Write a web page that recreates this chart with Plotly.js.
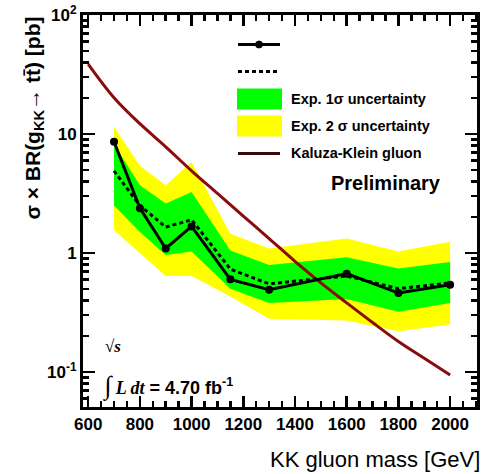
<!DOCTYPE html>
<html><head><meta charset="utf-8">
<script src="https://cdn.plot.ly/plotly-3.0.1.min.js"></script>
<style>body{margin:0;background:#fff}</style></head>
<body><div id="plot" style="width:485px;height:474px"></div>
<script>
// Limit points (KK gluon mass in GeV, cross-section in pb)
const mass = [700, 800, 900, 1000, 1150, 1300, 1600, 1800, 2000];
const observed = [8.6, 2.38, 1.09, 1.67, 0.60, 0.49, 0.67, 0.46, 0.54];
const expected = [4.9, 2.5, 1.65, 1.9, 0.73, 0.55, 0.64, 0.50, 0.56];
const oneSigmaUp = [8.2, 3.7, 2.6, 3.25, 1.05, 0.79, 0.92, 0.74, 0.84];
const oneSigmaDown = [2.5, 1.5, 0.96, 1.03, 0.50, 0.38, 0.41, 0.32, 0.38];
const twoSigmaUp = [11.5, 5.4, 3.7, 5.8, 1.45, 1.09, 1.32, 1.03, 1.24];
const twoSigmaDown = [1.55, 1.0, 0.64, 0.64, 0.43, 0.28, 0.27, 0.22, 0.25];
// Kaluza-Klein gluon theory prediction
const kkMass = [600, 700, 800, 900, 1000, 1100, 1200, 1300, 1400, 1500, 1600, 1700, 1800, 1900, 2000];
const kkXsec = [38.7, 20.2, 12.2, 7.8, 4.9, 3.16, 2.04, 1.32, 0.85, 0.56, 0.38, 0.26, 0.18, 0.13, 0.094];
// Axis ticks
const xTicks = [600, 800, 1000, 1200, 1400, 1600, 1800, 2000];
const yTicks = [0.1, 1, 10, 100];
const yTickText = ['10<sup>-1</sup>', '1', '10', '10<sup>2</sup>'];

function band(lo, hi) {
  return {
    x: mass.concat(mass.slice().reverse()),
    y: lo.concat(hi.slice().reverse())
  };
}
const b2 = band(twoSigmaDown, twoSigmaUp);
const b1 = band(oneSigmaDown, oneSigmaUp);

const yMinor = [];
for (let d of [0.01, 0.1, 1, 10]) for (let k = 2; k <= 9; k++) yMinor.push(+(k * d).toPrecision(3));

const traces = [
  {x: b2.x, y: b2.y, fill: 'toself', fillcolor: '#ffff00', line: {width: 0}, mode: 'lines', hoverinfo: 'skip'},
  {x: b1.x, y: b1.y, fill: 'toself', fillcolor: '#00ff00', line: {width: 0}, mode: 'lines', hoverinfo: 'skip'},
  {x: kkMass, y: kkXsec, mode: 'lines', line: {color: '#8a0c0c', width: 3, shape: 'spline'}},
  {x: mass, y: expected, mode: 'lines', line: {color: '#000', width: 3, dash: '4px,3px'}},
  {x: mass, y: observed, mode: 'lines+markers', line: {color: '#000', width: 3}, marker: {color: '#000', size: 8}}
];

const F = 'Liberation Sans, Arial, sans-serif';
const px = v => (v - 83) / 394;
const py = v => (407 - v) / 392;

const layout = {
  width: 485, height: 474,
  margin: {l: 83, r: 8, t: 15, b: 67},
  showlegend: false,
  plot_bgcolor: '#fff', paper_bgcolor: '#fff',
  font: {family: F, color: '#000'},
  xaxis: {
    range: [580, 2104], showgrid: false, zeroline: false,
    showline: true, linecolor: '#000', linewidth: 3, mirror: 'ticks',
    ticks: 'inside', ticklen: 11, tickwidth: 2.5, tickcolor: '#000',
    tickmode: 'array', tickvals: xTicks,
    tickfont: {family: F, size: 17, weight: 'bold'},
    minor: {ticks: 'inside', ticklen: 6, tickwidth: 2.5, tickcolor: '#000', dtick: 50, tick0: 600, showgrid: false}
  },
  yaxis: {
    type: 'log', range: [-1.295, 2], showgrid: false, zeroline: false,
    showline: true, linecolor: '#000', linewidth: 3, mirror: 'ticks',
    ticks: 'inside', ticklen: 12, tickwidth: 2.5, tickcolor: '#000',
    tickmode: 'array', tickvals: yTicks, ticktext: yTickText,
    tickfont: {family: F, size: 17, weight: 'bold'},
    minor: {ticks: 'inside', ticklen: 6, tickwidth: 2.5, tickcolor: '#000', tickmode: 'array', tickvals: yMinor, showgrid: false}
  },
  shapes: [
    {type: 'line', xref: 'paper', yref: 'paper', x0: px(238), x1: px(280), y0: py(44.5), y1: py(44.5), line: {color: '#000', width: 3}},
    {type: 'circle', xref: 'paper', yref: 'paper', x0: px(255.5), x1: px(262.5), y0: py(41), y1: py(48), fillcolor: '#000', line: {color: '#000', width: 1}},
    {type: 'line', xref: 'paper', yref: 'paper', x0: px(238), x1: px(280), y0: py(71.5), y1: py(71.5), line: {color: '#000', width: 3, dash: '4px,3px'}},
    {type: 'rect', xref: 'paper', yref: 'paper', x0: px(237), x1: px(282), y0: py(88.5), y1: py(109.5), fillcolor: '#00ff00', line: {width: 0}},
    {type: 'rect', xref: 'paper', yref: 'paper', x0: px(237), x1: px(282), y0: py(115.5), y1: py(136.5), fillcolor: '#ffff00', line: {width: 0}},
    {type: 'line', xref: 'paper', yref: 'paper', x0: px(238), x1: px(280), y0: py(153.5), y1: py(153.5), line: {color: '#3a0808', width: 3}}
  ],
  annotations: [
    {xref: 'paper', yref: 'paper', x: px(289), y: py(99), xanchor: 'left', yanchor: 'middle', showarrow: false,
     text: 'Exp. 1σ uncertainty', font: {family: F, size: 14.5, weight: 'bold'}},
    {xref: 'paper', yref: 'paper', x: px(289), y: py(126), xanchor: 'left', yanchor: 'middle', showarrow: false,
     text: 'Exp. 2 σ uncertainty', font: {family: F, size: 14.5, weight: 'bold'}},
    {xref: 'paper', yref: 'paper', x: px(289), y: py(153), xanchor: 'left', yanchor: 'middle', showarrow: false,
     text: 'Kaluza-Klein gluon', font: {family: F, size: 14.5, weight: 'bold'}},
    {xref: 'paper', yref: 'paper', x: px(329), y: py(183), xanchor: 'left', yanchor: 'middle', showarrow: false,
     text: 'Preliminary', font: {family: F, size: 20, weight: 'bold'}},
    {xref: 'paper', yref: 'paper', x: px(103), y: py(346), xanchor: 'left', yanchor: 'middle', showarrow: false,
     text: '√<i>s</i>', font: {family: 'Liberation Serif, serif', size: 17, weight: 'bold'}},
    {xref: 'paper', yref: 'paper', x: px(101), y: py(386), xanchor: 'left', yanchor: 'middle', showarrow: false,
     text: '<span style="font-family:Liberation Serif;font-style:italic"><span style="font-size:26px">∫</span> L dt</span> = 4.70 fb<sup>-1</sup>',
     font: {family: F, size: 18, weight: 'bold'}},
    {xref: 'paper', yref: 'paper', x: px(482), y: py(460), xanchor: 'right', yanchor: 'middle', showarrow: false,
     text: 'KK gluon mass [GeV]', font: {family: F, size: 22}},
    {xref: 'paper', yref: 'paper', x: px(33), y: 1, xanchor: 'center', yanchor: 'top', showarrow: false, textangle: -90,
     text: 'σ × BR(g<sub>KK</sub>→ tt̄) [pb]', font: {family: F, size: 21, weight: 'bold'}}
  ]
};

Plotly.newPlot('plot', traces, layout, {displayModeBar: false, staticPlot: true});
</script></body></html>
